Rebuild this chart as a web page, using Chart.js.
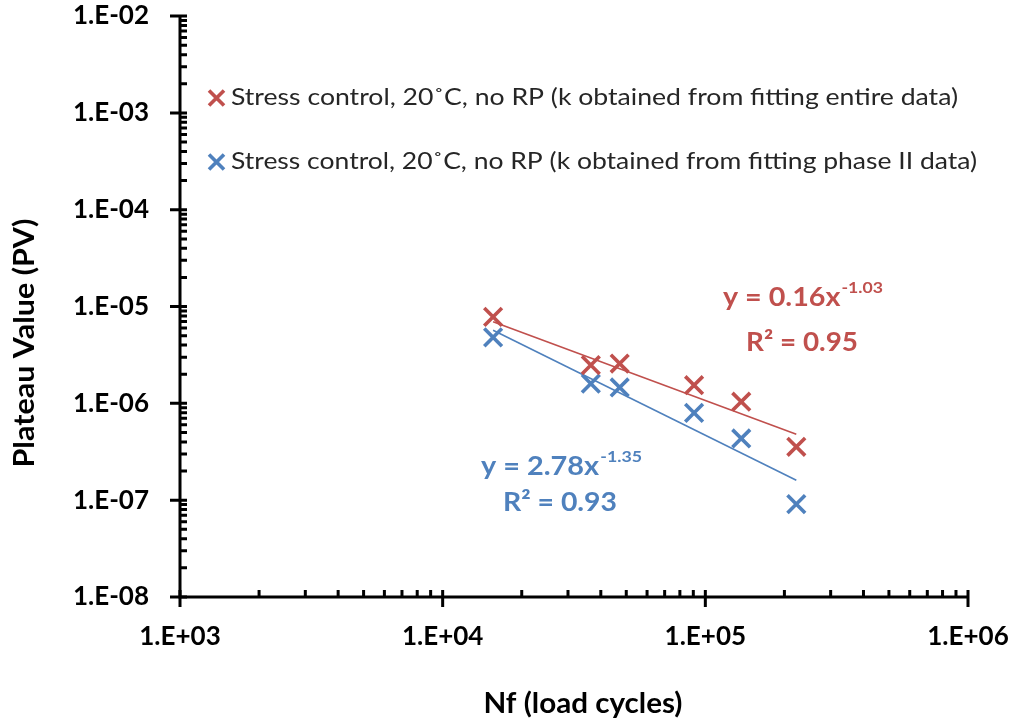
<!DOCTYPE html>
<html><head><meta charset="utf-8">
<script src="https://cdn.jsdelivr.net/npm/chart.js@4.4.1/dist/chart.umd.min.js"></script>
<style>html,body{margin:0;padding:0;background:#fff}#wrap{width:1018px;height:722px;position:relative}</style>
</head><body><div id="wrap"><canvas id="c" width="1018" height="722"></canvas></div>
<script>
// ---- data ----
const nfCycles   = [15560, 36650, 47200, 90600, 137000, 222000];
const pvEntire   = [7.83e-6, 2.48e-6, 2.58e-6, 1.54e-6, 1.04e-6, 3.56e-7];
const pvPhase2   = [4.80e-6, 1.60e-6, 1.46e-6, 7.98e-7, 4.34e-7, 9.1e-8];
const trendX       = [15560, 222000];
const trendEntire  = [6.95e-6, 4.81e-7];
const trendPhase2  = [5.70e-6, 1.61e-7];
const xTicks = [1e3, 1e4, 1e5, 1e6];
const xTickLabels = ['1.E+03', '1.E+04', '1.E+05', '1.E+06'];
const yTicks = [1e-8, 1e-7, 1e-6, 1e-5, 1e-4, 1e-3, 1e-2];
const yTickLabels = ['1.E-08', '1.E-07', '1.E-06', '1.E-05', '1.E-04', '1.E-03', '1.E-02'];
const seriesLabels = [
  'Stress control, 20˚C, no RP (k obtained from fitting entire data)',
  'Stress control, 20˚C, no RP (k obtained from fitting phase II data)'
];
const fitMain = ['y = 0.16x', 'y = 2.78x'];
const fitExp  = ['-1.03', '-1.35'];
const fitR2   = ['R² = 0.95', 'R² = 0.93'];
const xTitle = 'Nf (load cycles)';
const yTitle = 'Plateau Value (PV)';

const RED = '#C0504D', BLUE = '#4F81BD';
const FONT = 'Lato, "Open Sans", sans-serif';

function pts(xs, ys) { return xs.map((x, i) => ({x: x, y: ys[i]})); }

// draw text stretched horizontally to a target width (left/center aligned)
function fitText(ctx, text, x, y, font, targetW, align) {
  ctx.font = font;
  const w = ctx.measureText(text).width;
  const s = targetW / w;
  ctx.save();
  ctx.translate(x, y);
  ctx.scale(s, 1);
  ctx.textAlign = align;
  ctx.textBaseline = 'middle';
  ctx.fillText(text, 0, 0);
  ctx.restore();
}

const decor = {
  id: 'decor',
  beforeDatasetsDraw(chart) {
    const ctx = chart.ctx, a = chart.chartArea;
    const xs = chart.scales.x, ys = chart.scales.y;
    ctx.save();
    ctx.strokeStyle = '#000';
    ctx.lineWidth = 3;
    ctx.lineCap = 'butt';
    ctx.beginPath();
    ctx.moveTo(a.left, a.top - 1); ctx.lineTo(a.left, a.bottom + 1.5);
    ctx.moveTo(a.left - 1.5, a.bottom); ctx.lineTo(a.right + 1, a.bottom);
    ctx.stroke();
    ctx.beginPath();
    for (let d = 0; d < xTicks.length; d++) {
      const px = xs.getPixelForValue(xTicks[d]);
      ctx.moveTo(px, a.bottom - 7); ctx.lineTo(px, a.bottom + 10);
      if (d < xTicks.length - 1) {
        for (let m = 2; m <= 9; m++) {
          const mx = xs.getPixelForValue(xTicks[d] * m);
          ctx.moveTo(mx, a.bottom - 7); ctx.lineTo(mx, a.bottom);
        }
      }
    }
    for (let d = 0; d < yTicks.length; d++) {
      const py = ys.getPixelForValue(yTicks[d]);
      ctx.moveTo(a.left - 10, py); ctx.lineTo(a.left + 7, py);
      if (d < yTicks.length - 1) {
        for (let m = 2; m <= 9; m++) {
          const my = ys.getPixelForValue(yTicks[d] * m);
          ctx.moveTo(a.left, my); ctx.lineTo(a.left + 7, my);
        }
      }
    }
    ctx.stroke();
    ctx.restore();
  },
  afterDraw(chart) {
    const ctx = chart.ctx;
    ctx.save();
    // axis titles
    ctx.fillStyle = '#000';
    fitText(ctx, xTitle, 583, 704, 'bold 28px ' + FONT, 199, 'center');
    ctx.save();
    ctx.translate(25, 343);
    ctx.rotate(-Math.PI / 2);
    fitText(ctx, yTitle, 0, 0, 'bold 28px ' + FONT, 249, 'center');
    ctx.restore();

    // legend
    const ds = chart.data.datasets;
    const legendY = [98, 162];
    for (let i = 0; i < 2; i++) {
      const c = ds[i].borderColor;
      const cx = 216.5, cy = legendY[i], r = 7.5;
      ctx.strokeStyle = c; ctx.lineWidth = 3.6;
      ctx.beginPath();
      ctx.moveTo(cx - r, cy - r); ctx.lineTo(cx + r, cy + r);
      ctx.moveTo(cx + r, cy - r); ctx.lineTo(cx - r, cy + r);
      ctx.stroke();
      ctx.fillStyle = '#262626';
      fitText(ctx, ds[i].label, 231, cy, '23px ' + FONT, i === 0 ? 727 : 746, 'left');
    }

    // fit equations
    const eqPos = [[723, 298, 160, 802, 343, 112, RED], [481, 467, 161, 560, 503, 114, BLUE]];
    for (let i = 0; i < 2; i++) {
      const [ex, ey, ew, rx, ry, rw, col] = eqPos[i];
      ctx.fillStyle = col;
      ctx.font = 'bold 26px ' + FONT;
      const w1 = ctx.measureText(fitMain[i]).width;
      ctx.font = 'bold 16px ' + FONT;
      const w2 = ctx.measureText(fitExp[i]).width;
      const s = ew / (w1 + w2 + 1);
      ctx.save();
      ctx.translate(ex, ey);
      ctx.scale(s, 1);
      ctx.textAlign = 'left';
      ctx.textBaseline = 'middle';
      ctx.font = 'bold 26px ' + FONT;
      ctx.fillText(fitMain[i], 0, 0);
      ctx.font = 'bold 16px ' + FONT;
      ctx.fillText(fitExp[i], w1 + 1, -10);
      ctx.restore();
      fitText(ctx, fitR2[i], rx, ry, 'bold 26px ' + FONT, rw, 'center');
    }
    ctx.restore();
  }
};

new Chart(document.getElementById('c'), {
  type: 'scatter',
  data: {
    datasets: [
      { label: seriesLabels[0], data: pts(nfCycles, pvEntire), borderColor: RED, backgroundColor: RED,
        pointStyle: 'crossRot', pointRadius: 12.5, pointBorderWidth: 3.6, showLine: false, order: 1 },
      { label: seriesLabels[1], data: pts(nfCycles, pvPhase2), borderColor: BLUE, backgroundColor: BLUE,
        pointStyle: 'crossRot', pointRadius: 12.5, pointBorderWidth: 3.6, showLine: false, order: 1 },
      { label: 'fit1', data: pts(trendX, trendEntire), borderColor: RED, borderWidth: 1.6,
        showLine: true, pointRadius: 0, order: 2 },
      { label: 'fit2', data: pts(trendX, trendPhase2), borderColor: BLUE, borderWidth: 1.6,
        showLine: true, pointRadius: 0, order: 2 }
    ]
  },
  options: {
    responsive: false,
    animation: false,
    devicePixelRatio: 1,
    layout: { padding: { left: 0, top: 16, right: 50, bottom: 0 } },
    plugins: { legend: { display: false }, tooltip: { enabled: false } },
    scales: {
      x: {
        type: 'logarithmic', min: 1e3, max: 1e6,
        grid: { display: false, drawTicks: true, tickLength: 23 },
        border: { display: false },
        afterBuildTicks: s => { s.ticks = xTicks.map(v => ({ value: v, major: true })); },
        afterFit: s => { s.height = 125; },
        ticks: {
          autoSkip: false, maxRotation: 0, padding: 1, color: '#000',
          font: { family: FONT, size: 26, weight: 'bold' },
          callback: (v, i) => xTickLabels[i]
        }
      },
      y: {
        type: 'logarithmic', min: 1e-8, max: 1e-2,
        grid: { display: false, drawTicks: true, tickLength: 31 },
        border: { display: false },
        afterBuildTicks: s => { s.ticks = yTicks.map(v => ({ value: v, major: true })); },
        afterFit: s => { s.width = 180; },
        ticks: {
          autoSkip: false, padding: 0, color: '#000',
          font: { family: FONT, size: 26, weight: 'bold' },
          callback: (v, i) => yTickLabels[i]
        }
      }
    }
  },
  plugins: [decor]
});
</script></body></html>
